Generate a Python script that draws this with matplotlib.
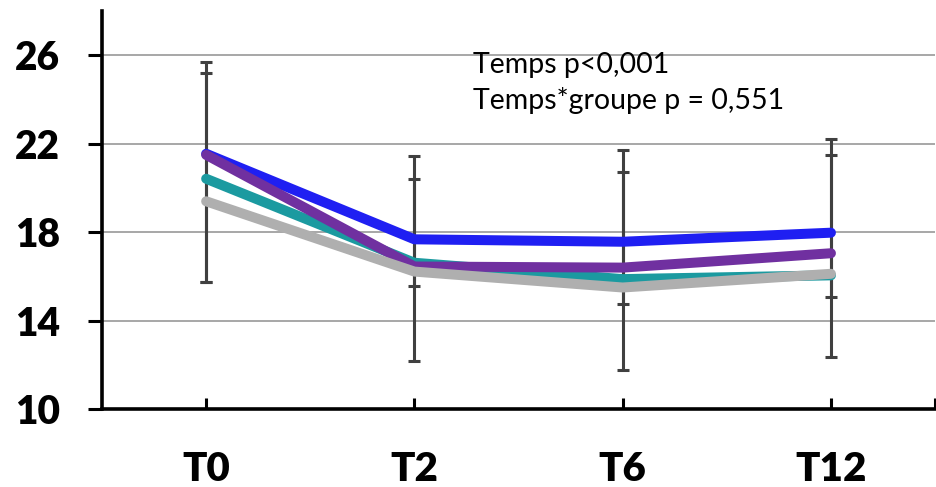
import matplotlib.pyplot as plt
import numpy as np

plt.rcParams['font.family'] = ['Lato', 'DejaVu Sans']

# ---- data ----
times = ["T0", "T2", "T6", "T12"]

blue = [21.55, 17.68, 17.57, 17.98]
teal = [20.42, 16.62, 15.88, 16.05]
purple = [21.5, 16.45, 16.4, 17.05]
gray = [19.4, 16.22, 15.5, 16.12]

# error bars (two overlapping sets)
err_hi_a = [25.72, 21.46, 21.72, 22.22]
err_lo_a = [15.75, 12.17, 11.75, 12.36]
err_hi_b = [25.22, 20.42, 20.71, 21.48]
err_lo_b = [15.75, 15.57, 14.77, 15.07]

note = "Temps p<0,001\nTemps*groupe p = 0,551"

# ---- plot ----
fig = plt.figure(figsize=(9.36, 4.87), dpi=100)
ax = fig.add_axes([0.109, 0.160, 0.890, 0.817])

x = np.arange(len(times))

for hi, lo in [(err_hi_a, err_lo_a), (err_hi_b, err_lo_b)]:
    hi = np.array(hi)
    lo = np.array(lo)
    mid = (hi + lo) / 2
    ax.errorbar(x, mid, yerr=(hi - lo) / 2, fmt="none", ecolor="#404040",
                elinewidth=2.2, capsize=4, capthick=2.2, zorder=2)

series = [(blue, "#1F1FF2"), (teal, "#1B9AA0"), (purple, "#7030A0"), (gray, "#AFAFAF")]
for vals, col in series:
    ax.plot(x, vals, color=col, lw=7.2, solid_capstyle="round",
            solid_joinstyle="round", zorder=3)

ax.set_xlim(-0.5, 3.5)
ax.set_ylim(10, 28)
ax.set_yticks([10, 14, 18, 22, 26])
ax.set_xticks(x)
ax.set_xticklabels(times)
ax.set_xticks([3.5], minor=True)

ax.grid(axis="y", color="#A0A0A0", lw=1.3)
ax.set_axisbelow(True)

for s in ["top", "right"]:
    ax.spines[s].set_visible(False)
for s in ["left", "bottom"]:
    ax.spines[s].set_linewidth(2.6)
    ax.spines[s].set_color("black")

ax.tick_params(axis="y", direction="out", length=10, width=2.2, pad=20,
               labelsize=28)
ax.tick_params(axis="x", which="both", direction="in", length=8, width=2.2,
               pad=30, labelsize=29)
for lab in ax.get_xticklabels() + ax.get_yticklabels():
    lab.set_fontweight("heavy")

ax.text(1.28, 26.15, note, fontsize=20.5, va="top", ha="left",
        linespacing=1.42, color="black")

fig.savefig("out.png", dpi=100)
